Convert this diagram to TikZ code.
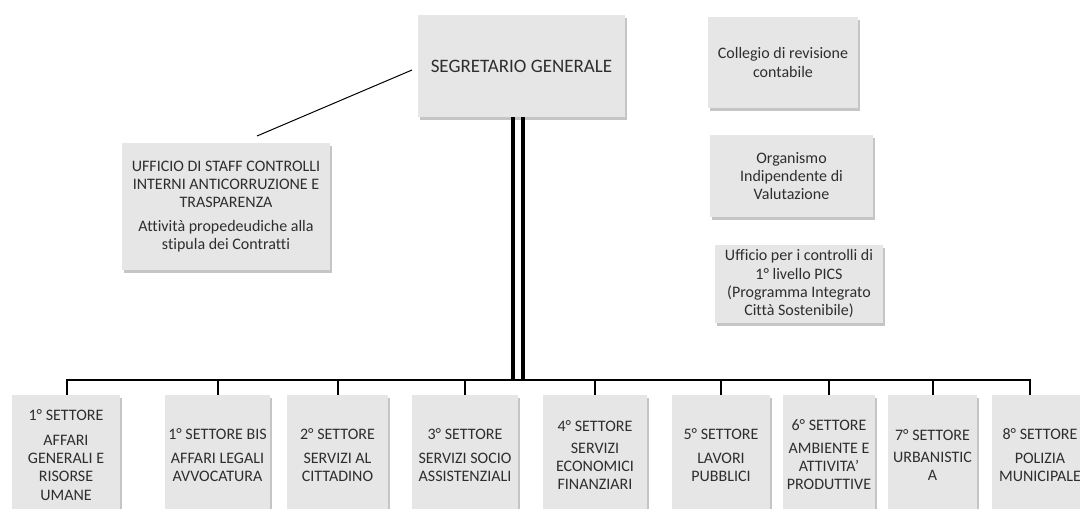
\documentclass[tikz,border=0pt]{standalone}
\usepackage{fontspec}
\setmainfont{Carlito}[Ligatures={NoCommon}]
\usetikzlibrary{shadows}
\definecolor{boxgray}{HTML}{E6E6E6}
\definecolor{txtgray}{HTML}{2E2E2E}
\tikzset{
  orgbox/.style={draw=none, fill=boxgray, text=txtgray, align=center, inner sep=2pt,
    font=\fontsize{16}{18.3}\selectfont,
    drop shadow={shadow xshift=1.5pt, shadow yshift=-3pt, fill=black!45, opacity=0.5}},
  sector/.style={orgbox, minimum height=120pt},
  thinline/.style={draw=black, line width=1pt},
  barline/.style={draw=black, line width=2.5pt},
  tickline/.style={draw=black, line width=2pt},
  dblline/.style={draw=black, line width=4pt}
}
\begin{document}
\begin{tikzpicture}[x=1pt,y=-1pt]
\useasboundingbox (0,0) rectangle (1080,509);
\clip (0,0) rectangle (1080,509);
% top
\node[orgbox, minimum width=207pt, minimum height=102pt, font=\fontsize{19}{22}\selectfont] (seg) at (521.5,66) {SEGRETARIO GENERALE};
\node[orgbox, minimum width=208pt, minimum height=127pt] (staff) at (226,206.5)
  {UFFICIO DI STAFF CONTROLLI\\ INTERNI ANTICORRUZIONE E\\ TRASPARENZA\\[5pt] Attività propedeudiche alla\\ stipula dei Contratti};
\node[orgbox, minimum width=150pt, minimum height=91pt] (coll) at (783,62.5) {Collegio di revisione\\ contabile};
\node[orgbox, minimum width=163pt, minimum height=82pt] (oiv) at (791.5,176) {Organismo\\ Indipendente di\\ Valutazione};
\node[orgbox, minimum width=168pt, minimum height=78pt] (pics) at (799,284) {Ufficio per i controlli di\\ 1° livello PICS\\ (Programma Integrato\\ Città Sostenibile)};
% sectors
\node[sector, minimum width=108pt] (b1) at (66,455) {1° SETTORE\\[6pt] AFFARI\\ GENERALI E\\ RISORSE\\ UMANE};
\node[sector, minimum width=105pt] (b1bis) at (217.5,455) {1° SETTORE BIS\\[6pt] AFFARI LEGALI\\ AVVOCATURA};
\node[sector, minimum width=101pt] (b2) at (337.5,455) {2° SETTORE\\[6pt] SERVIZI AL\\ CITTADINO};
\node[sector, minimum width=106pt] (b3) at (465,455) {3° SETTORE\\[6pt] SERVIZI SOCIO\\ ASSISTENZIALI};
\node[sector, minimum width=104pt] (b4) at (595,455) {4° SETTORE\\[4pt] SERVIZI\\ ECONOMICI\\ FINANZIARI};
\node[sector, minimum width=98pt] (b5) at (721,455) {5° SETTORE\\[6pt] LAVORI\\ PUBBLICI};
\node[sector, minimum width=92pt] (b6) at (829,455) {6° SETTORE\\[4pt] AMBIENTE E\\ ATTIVITA'\\ PRODUTTIVE};
\node[sector, minimum width=89pt] (b7) at (932.5,455) {7° SETTORE\\[4pt] URBANISTIC\\ A};
\node[sector, minimum width=96pt] (b8) at (1040,455) {8° SETTORE\\[6pt] POLIZIA\\ MUNICIPALE};
% connectors
\coordinate (barL) at (67,380);
\coordinate (barR) at (1030,380);
\coordinate (staffEnd) at (257,136);
\coordinate (segEnd) at (412,70);
\draw[thinline] (staffEnd) -- (segEnd);
\draw[dblline] ([xshift=-8.5pt]seg.south) -- ([xshift=-8.5pt]seg.south |- barL);
\draw[dblline] ([xshift=1.5pt]seg.south) -- ([xshift=1.5pt]seg.south |- barL);
\draw[barline] ([xshift=-1pt]barL) -- ([xshift=1pt]barR);
\draw[tickline] (barL) -- (barL |- b1.north);
\foreach \b in {b1bis,b2,b3,b4,b5,b6,b7}{
  \draw[tickline] (\b.north |- barL) -- (\b.north);
}
\draw[tickline] (barR) -- (barR |- b8.north);
\end{tikzpicture}
\end{document}
